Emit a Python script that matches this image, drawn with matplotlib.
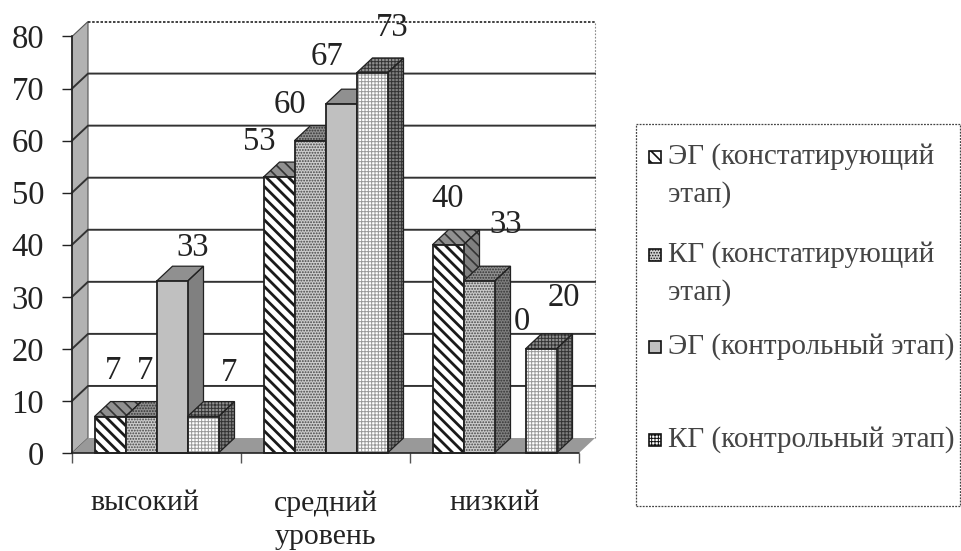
import matplotlib
matplotlib.use("Agg")
import matplotlib.pyplot as plt
from matplotlib.patches import Polygon, Rectangle
from matplotlib.transforms import ScaledTranslation

plt.rcParams['font.family'] = ['Liberation Serif', 'DejaVu Serif']

# Данные диаграммы
levels = ['высокий', 'средний\nуровень', 'низкий']
series_names = ['ЭГ (констатирующий\nэтап)', 'КГ (констатирующий\nэтап)',
                'ЭГ (контрольный этап)', 'КГ (контрольный этап)']
eg_start = [7, 53, 40]
kg_start = [7, 60, 33]
eg_end = [33, 67, 0]
kg_end = [7, 73, 20]
series_values = [eg_start, kg_start, eg_end, kg_end]
y_ticks = list(range(0, 90, 10))

# Оформление
W, H = 961, 551
AX_LEFT, AX_RIGHT, AX_BOTTOM, AX_TOP = 72, 579, 453, 36.5
DEPTH_X = 16 / 169
DEPTH_Y = 15 / 5.21
BAR_W = 31 / 169
HATCHES = ['\\\\\\', '......', None, '+++++']
HATCH_COLORS = ['#1a1a1a', '#444444', 'none', '#999999']
HATCH_LW = [2.0, 0.9, 0.5, 0.7]
FACES = ['white', '#cccccc', '#c0c0c0', 'white']
OUTLINE = '#222222'
# смещения подписей от верха столбца, в пикселях
LABEL_OFFSETS = [[(3, 46), (4, 46), (21, 33), (26, 44)],
                 [(-20, 35), (-20, 36), (-14, 47), (20, 45)],
                 [(0, 46), (27, 56), (12, 131), (23, 51)]]

fig = plt.figure(figsize=(W / 100, H / 100), dpi=100, facecolor='white')
ax = fig.add_axes([AX_LEFT / W, 1 - AX_BOTTOM / H,
                   (AX_RIGHT - AX_LEFT) / W, (AX_BOTTOM - AX_TOP) / H])
ax.set_xlim(-0.5, 2.5)
ax.set_ylim(0, 80)
ax.patch.set_visible(False)

x0, x1 = -0.5, 2.5


def add_poly(points, z, **kw):
    ax.add_patch(Polygon(points, closed=True, clip_on=False, zorder=z, **kw))


def hatched_poly(points, z, s, face):
    # штриховка на гранях темнее и тоньше, чем на лицевой стороне
    p = Polygon(points, closed=True, clip_on=False, zorder=z, facecolor=face,
                edgecolor='#333333', hatch=HATCHES[s], linewidth=0)
    p.set_hatch_linewidth(min(HATCH_LW[s], 1.2))
    ax.add_patch(p)
    add_poly(points, z + 0.1, fill=False, edgecolor=OUTLINE, linewidth=0.9)


# Стенки и пол
add_poly([(x0, 0), (x0, 80), (x0 + DEPTH_X, 80 + DEPTH_Y), (x0 + DEPTH_X, DEPTH_Y)], 1,
         facecolor='#b2b2b2', edgecolor='#555555', linewidth=0.8)
add_poly([(x0, 0), (x1, 0), (x1 + DEPTH_X, DEPTH_Y), (x0 + DEPTH_X, DEPTH_Y)], 1,
         facecolor='#999999', edgecolor='none')
add_poly([(x0 + DEPTH_X, DEPTH_Y), (x0 + DEPTH_X, 80 + DEPTH_Y),
          (x1 + DEPTH_X, 80 + DEPTH_Y), (x1 + DEPTH_X, DEPTH_Y)], 0.5,
         facecolor='white', edgecolor='none')

# Рамка задней стенки
ax.plot([x0 + DEPTH_X, x1 + DEPTH_X], [80 + DEPTH_Y] * 2, color='#222222', lw=1.2,
        ls=(0, (1.5, 1)), clip_on=False, zorder=2)
ax.plot([x1 + DEPTH_X] * 2, [DEPTH_Y, 80 + DEPTH_Y], color='#888888', lw=0.8,
        ls=(0, (1.5, 1.5)), clip_on=False, zorder=2)

# Линии сетки на стенках
for t in y_ticks[1:-1]:
    ax.plot([x0, x0 + DEPTH_X, x1 + DEPTH_X], [t, t + DEPTH_Y, t + DEPTH_Y],
            color='#333333', lw=1.4, clip_on=False, zorder=2)

# Столбцы: правый перекрывает боковую грань левого
z = 3
for g in range(len(levels)):
    for s, values in enumerate(series_values):
        v = values[g]
        left = g - 2 * BAR_W + s * BAR_W
        right = left + BAR_W
        if v > 0:
            hatched_poly([(right, 0), (right, v), (right + DEPTH_X, v + DEPTH_Y),
                          (right + DEPTH_X, DEPTH_Y)], z, s, '#808080')
            hatched_poly([(left, v), (right, v), (right + DEPTH_X, v + DEPTH_Y),
                          (left + DEPTH_X, v + DEPTH_Y)], z, s, '#909090')
            bars = ax.bar(left, v, BAR_W, align='edge', color=FACES[s], edgecolor=HATCH_COLORS[s],
                          hatch=HATCHES[s], linewidth=0, zorder=z + 0.5, clip_on=False)
            bars[0].set_hatch_linewidth(HATCH_LW[s])
            ax.bar(left, v, BAR_W, align='edge', fill=False, edgecolor=OUTLINE,
                   linewidth=1.3, zorder=z + 0.6, clip_on=False)
        ax.annotate(str(v), (left + BAR_W / 2, v), xytext=LABEL_OFFSETS[g][s],
                    textcoords='offset pixels', ha='center', va='center', fontsize=23.5,
                    color='#222222', annotation_clip=False, zorder=50)
        z += 1

# Оси
for name in ['top', 'right']:
    ax.spines[name].set_visible(False)
for name in ['left', 'bottom']:
    ax.spines[name].set_linewidth(1.2)
    ax.spines[name].set_linestyle((0, (1.5, 1)))
    ax.spines[name].set_color('#222222')
    ax.spines[name].set_zorder(60)
ax.set_yticks(y_ticks)
ax.set_yticklabels([str(t) for t in y_ticks], fontsize=23.5, color='#222222')
ax.tick_params(axis='y', length=7, width=1, pad=13, color='#222222')
ax.set_xticks([-0.5, 0.5, 1.5, 2.5])
ax.set_xticklabels([])
ax.tick_params(axis='x', which='major', length=7, width=1, color='#555555')
ax.set_xticks(range(len(levels)), minor=True)
ax.set_xticklabels(levels, minor=True, fontsize=21.5, color='#222222', linespacing=1.35)
ax.tick_params(axis='x', which='minor', length=0, pad=27)
shift = ScaledTranslation(-12 / 100, 0, fig.dpi_scale_trans)
lab = ax.get_xticklabels(minor=True)[0]
lab.set_transform(lab.get_transform() + shift)

# Легенда
fig.add_artist(Rectangle((636 / W, 1 - 506 / H), 324 / W, 382 / H, transform=fig.transFigure,
                         facecolor='white', edgecolor='#444444', lw=0.9, ls=(0, (1.5, 1))))
legend_y = [157, 255, 347, 440]
for s, name in enumerate(series_names):
    y = legend_y[s]
    swatch = Rectangle((649 / W, 1 - (y + 6) / H), 12 / W, 12 / H, transform=fig.transFigure,
                       facecolor=FACES[s], edgecolor='#111111', lw=1.2, hatch=HATCHES[s])
    swatch.set_hatch_linewidth(1.2 if s == 0 else 0.7)
    fig.add_artist(swatch)
    fig.text(668 / W, 1 - (y - 14) / H, name, fontsize=21, color='#444444', va='top', ha='left',
             linespacing=1.55)

fig.savefig('out.png', dpi=100)
